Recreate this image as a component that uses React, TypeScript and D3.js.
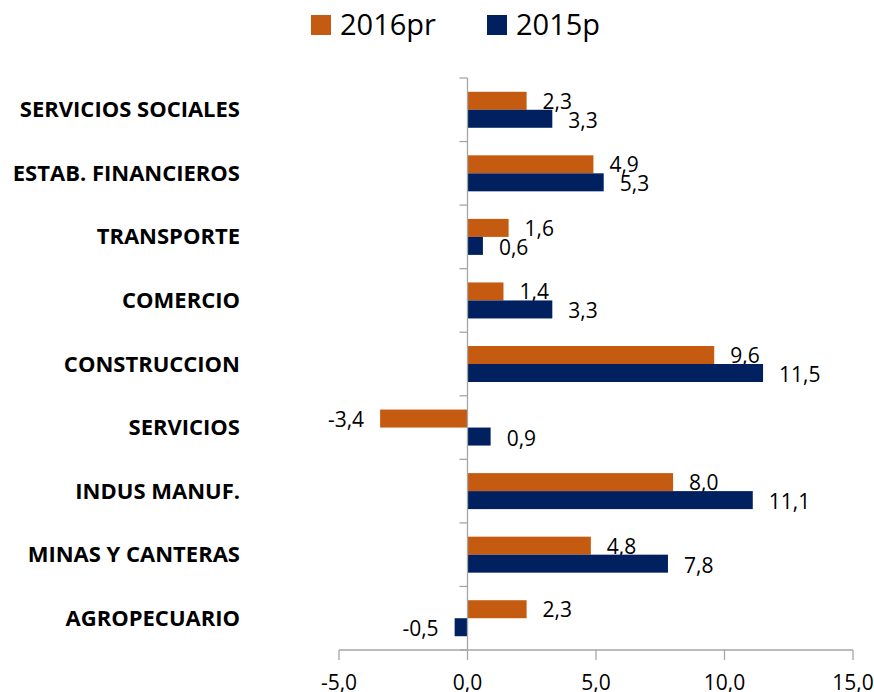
import React from "react";
import * as d3 from "d3";

const categories = [
  "SERVICIOS SOCIALES",
  "ESTAB. FINANCIEROS",
  "TRANSPORTE",
  "COMERCIO",
  "CONSTRUCCION",
  "SERVICIOS",
  "INDUS MANUF.",
  "MINAS Y CANTERAS",
  "AGROPECUARIO",
];
const values2016 = [2.3, 4.9, 1.6, 1.4, 9.6, -3.4, 8.0, 4.8, 2.3];
const values2015 = [3.3, 5.3, 0.6, 3.3, 11.5, 0.9, 11.1, 7.8, -0.5];
const seriesNames = ["2016pr", "2015p"];
const seriesColors = ["#C55A11", "#002060"];
const xTicks = [-5, 0, 5, 10, 15];

const W = 874;
const H = 692;
const FONT = "'Open Sans', 'DejaVu Sans', sans-serif";

export default function App() {
  const x = d3.scaleLinear().domain([-5, 15]).range([339, 853]);
  const y = d3.scaleBand<string>().domain(categories).range([78, 650]);
  const barH = 18;
  const fmt = (v: number) => v.toFixed(1).replace(".", ",");
  const series = [values2016, values2015];

  return (
    <svg width={W} height={H} style={{ position: "absolute", left: 0, top: 0, background: "#fff" }}>
      {/* legend */}
      {seriesNames.map((n, i) => {
        const lx = i === 0 ? 311 : 487;
        return (
          <g key={n}>
            <rect x={lx} y={15} width={20} height={20} fill={seriesColors[i]} />
            <text x={lx + 29} y={35} fontFamily={FONT} fontSize={29} fill="#000">
              {n}
            </text>
          </g>
        );
      })}

      {/* bars */}
      {categories.map((c, ci) => {
        const center = (y(c) as number) + y.bandwidth() / 2;
        return series.map((vals, si) => {
          const v = vals[ci];
          const by = center - barH + si * barH;
          const x0 = x(0);
          const x1 = x(v);
          const lx = v >= 0 ? x1 + 16 : x1 - 16;
          return (
            <g key={c + si}>
              <rect x={Math.min(x0, x1)} y={by} width={Math.abs(x1 - x0)} height={barH} fill={seriesColors[si]} />
              <text
                x={lx}
                y={by + barH - (si === 0 ? 1 : 0)}
                fontFamily={FONT}
                fontSize={21}
                textAnchor={v >= 0 ? "start" : "end"}
                fill="#000"
              >
                {fmt(v)}
              </text>
            </g>
          );
        });
      })}

      {/* vertical axis */}
      <line x1={x(0)} x2={x(0)} y1={78} y2={650} stroke="#A6A6A6" strokeWidth={1.3} />
      {d3.range(categories.length + 1).map((i) => {
        const ty = 78 + i * y.step();
        return <line key={i} x1={x(0) - 8} x2={x(0)} y1={ty} y2={ty} stroke="#A6A6A6" strokeWidth={1.3} />;
      })}
      {categories.map((c) => (
        <text
          key={c}
          x={240}
          y={(y(c) as number) + y.bandwidth() / 2 + 7.5}
          fontFamily={FONT}
          fontWeight="bold"
          fontSize={22}
          textAnchor="end"
          fill="#000"
        >
          {c}
        </text>
      ))}

      {/* horizontal axis */}
      <line x1={x(-5)} x2={x(15)} y1={650} y2={650} stroke="#A6A6A6" strokeWidth={1.3} />
      {xTicks.map((t) => (
        <g key={t}>
          <line x1={x(t)} x2={x(t)} y1={650} y2={660} stroke="#A6A6A6" strokeWidth={1.3} />
          <text x={x(t)} y={690} fontFamily={FONT} fontSize={21} textAnchor="middle" fill="#000">
            {fmt(t)}
          </text>
        </g>
      ))}
    </svg>
  );
}
